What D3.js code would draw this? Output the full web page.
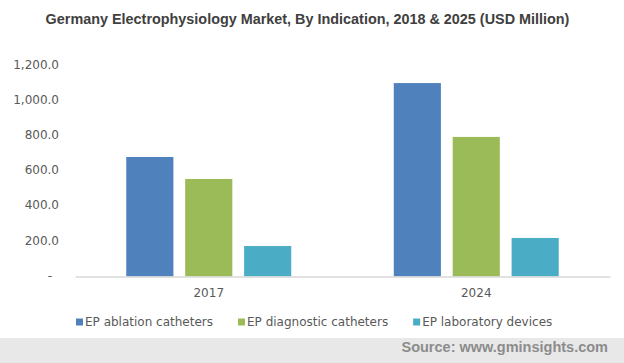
<!DOCTYPE html>
<html>
<head>
<meta charset="utf-8">
<script src="https://cdn.jsdelivr.net/npm/d3@7"></script>
<style>
  body { margin: 0; background: #fff; }
  svg { display: block; }
</style>
</head>
<body>
<div id="area"></div>
<script>
var width = 624,
    height = 363;

var years = ['2017', '2024'];
var seriesNames = ['EP ablation catheters', 'EP diagnostic catheters', 'EP laboratory devices'];
var seriesColors = ['#4F81BD', '#9BBB59', '#4BACC6'];
var ablation = [679, 1099];
var diagnostic = [554, 793];
var laboratory = [173, 219];
var yTicks = [0, 200, 400, 600, 800, 1000, 1200];

var seriesValues = [ablation, diagnostic, laboratory];

var text_color = '#595959',
    font = 'DejaVu Sans, Verdana, sans-serif';

var svg = d3.select('#area').append('svg')
    .attr('width', width)
    .attr('height', height);

// title
svg.append('text')
    .attr('x', 307.5)
    .attr('y', 24)
    .attr('text-anchor', 'middle')
    .attr('font-family', 'Liberation Sans, Arial, sans-serif')
    .attr('font-weight', 'bold')
    .attr('font-size', 14.4)
    .attr('fill', '#404040')
    .text('Germany Electrophysiology Market, By Indication, 2018 & 2025 (USD Million)');

// scales
var x0 = d3.scaleBand().domain(years).range([75, 610]).padding(0);
var x1 = d3.scaleBand().domain(seriesNames).range([0, x0.bandwidth()])
    .paddingInner(0.2).paddingOuter(0.87);
var y = d3.scaleLinear().domain([0, 1200]).range([276.5, 65.3]);

// y labels
var fmt = d3.format(',.1f');
svg.append('g').selectAll('text')
    .data(yTicks)
    .enter().append('text')
    .attr('x', function(d) { return d === 0 ? 52 : 59; })
    .attr('y', function(d) { return y(d) - 1; })
    .attr('dy', '0.35em')
    .attr('text-anchor', 'end')
    .attr('font-family', font)
    .attr('font-size', 12)
    .attr('fill', text_color)
    .text(function(d) { return d === 0 ? '-' : fmt(d); });

// bars
var groups = svg.append('g').selectAll('g')
    .data(years)
    .enter().append('g')
    .attr('transform', function(d) { return 'translate(' + x0(d) + ',0)'; });

groups.selectAll('rect')
    .data(function(d, i) {
      return seriesNames.map(function(s, j) {
        return { name: s, value: seriesValues[j][i], color: seriesColors[j] };
      });
    })
    .enter().append('rect')
    .attr('x', function(d) { return x1(d.name); })
    .attr('width', x1.bandwidth())
    .attr('y', function(d) { return y(d.value); })
    .attr('height', function(d) { return y(0) - y(d.value); })
    .attr('fill', function(d) { return d.color; });

// x axis
var xAxis = svg.append('g')
    .attr('transform', 'translate(0,' + y(0) + ')')
    .call(d3.axisBottom(x0).tickSize(0).tickPadding(12));
xAxis.select('.domain').attr('stroke', '#d9d9d9').attr('stroke-width', 1.5);
xAxis.selectAll('text')
    .attr('font-family', font)
    .attr('font-size', 12)
    .attr('fill', text_color);

// legend
var legend = svg.append('g').attr('transform', 'translate(76,322)');
var lx = 0;
seriesNames.forEach(function(name, i) {
  var item = legend.append('g').attr('transform', 'translate(' + lx + ',0)');
  item.append('rect')
      .attr('x', 0)
      .attr('y', -3.5)
      .attr('width', 7)
      .attr('height', 7)
      .attr('fill', seriesColors[i]);
  var t = item.append('text')
      .attr('x', 9)
      .attr('y', 0)
      .attr('dy', '0.35em')
      .attr('font-family', font)
      .attr('font-size', 12)
      .attr('fill', text_color)
      .text(name);
  lx += 9 + t.node().getComputedTextLength() + 25;
});

// source band
svg.append('rect')
    .attr('x', 0)
    .attr('y', 338)
    .attr('width', width)
    .attr('height', height - 338)
    .attr('fill', '#e8e8e8');

svg.append('text')
    .attr('x', 608)
    .attr('y', 352)
    .attr('text-anchor', 'end')
    .attr('font-family', 'Liberation Sans, Arial, sans-serif')
    .attr('font-weight', 'bold')
    .attr('font-size', 14.5)
    .attr('fill', '#8c8c8c')
    .text('Source: www.gminsights.com');
</script>
</body>
</html>
